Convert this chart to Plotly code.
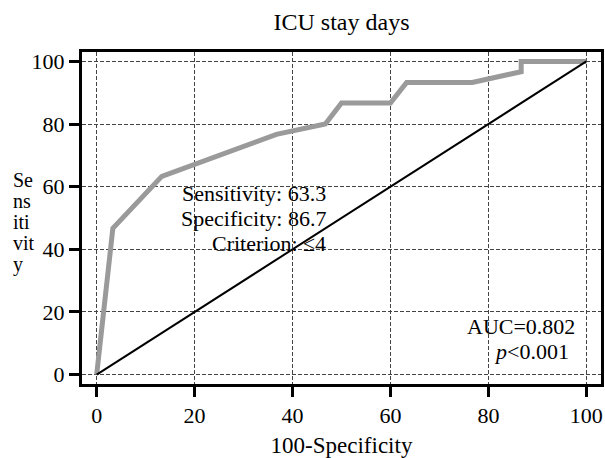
import plotly.graph_objects as go

# ROC curve points (100-Specificity, Sensitivity)
roc_x = [0, 3.3, 13.3, 36.7, 46.7, 50.0, 60.0, 63.3, 76.7, 86.7, 86.7, 100]
roc_y = [0, 46.7, 63.3, 76.7, 80.0, 86.7, 86.7, 93.3, 93.3, 96.7, 100, 100]
ref_x = [0, 100]
ref_y = [0, 100]
tick_vals = [0, 20, 40, 60, 80, 100]
tick_text = ["0", "20", "40", "60", "80", "100"]
stats_lines = ["Sensitivity: 63.3", "Specificity: 86.7", "Criterion: \u22644"]
auc_lines = ["AUC=0.802", "<i>p</i><0.001"]
ylabel_parts = ["Se", "ns", "iti", "vit", "y"]

FONT = "Liberation Serif, Times New Roman, serif"
W, H = 605, 458
ML, MR, MT, MB = 82, 4, 52, 74

fig = go.Figure()
fig.add_trace(go.Scatter(x=roc_x, y=roc_y, mode="lines",
                         line=dict(color="#9a9a9a", width=5), showlegend=False))
fig.add_trace(go.Scatter(x=ref_x, y=ref_y, mode="lines",
                         line=dict(color="black", width=2), showlegend=False))

axis_common = dict(
    range=[-3, 103], tickvals=tick_vals, ticktext=tick_text,
    showline=True, linecolor="black", linewidth=3, mirror=True,
    ticks="outside", ticklen=10, tickwidth=3, tickcolor="black",
    showgrid=True, gridcolor="#444444", gridwidth=1, griddash="4px,2px",
    zeroline=False, automargin=False,
    tickfont=dict(family=FONT, size=22, color="black"),
)
fig.update_xaxes(**axis_common,
                 title=dict(text="100-Specificity", font=dict(family=FONT, size=23, color="black")))
fig.update_yaxes(**axis_common)

plot_w = W - ML - MR
plot_h = H - MT - MB

annotations = []
for i, t in enumerate(stats_lines):
    annotations.append(dict(x=47.0, y=57.7 - i * 7.9, xref="x", yref="y", text=t,
                            showarrow=False, xanchor="right", yanchor="middle",
                            borderpad=0,
                            font=dict(family=FONT, size=22, color="black")))
auc_y = [15.3, 7.3]
auc_xr = [97.8, 96.6]
for t, yy, xr in zip(auc_lines, auc_y, auc_xr):
    annotations.append(dict(x=xr, y=yy, xref="x", yref="y", text=t,
                            showarrow=False, xanchor="right", yanchor="middle",
                            borderpad=0,
                            font=dict(family=FONT, size=22, color="black")))
for i, t in enumerate(ylabel_parts):
    py = 180 + i * 21
    annotations.append(dict(x=(12 - ML) / plot_w, y=(H - MB - py) / plot_h,
                            xref="paper", yref="paper", text=t,
                            showarrow=False, xanchor="left", yanchor="middle",
                            borderpad=0,
                            font=dict(family=FONT, size=20, color="black")))

fig.update_layout(
    width=W, height=H,
    margin=dict(l=ML, r=MR, t=MT, b=MB),
    paper_bgcolor="white", plot_bgcolor="white",
    title=dict(text="ICU stay days", x=0.5, xref="paper", xanchor="center",
               y=1 - 22 / H, yanchor="middle",
               font=dict(family=FONT, size=24, color="black")),
    annotations=annotations,
)

fig.write_html("out.html", config={"displayModeBar": False},
               post_script="document.body.style.margin='0';")
